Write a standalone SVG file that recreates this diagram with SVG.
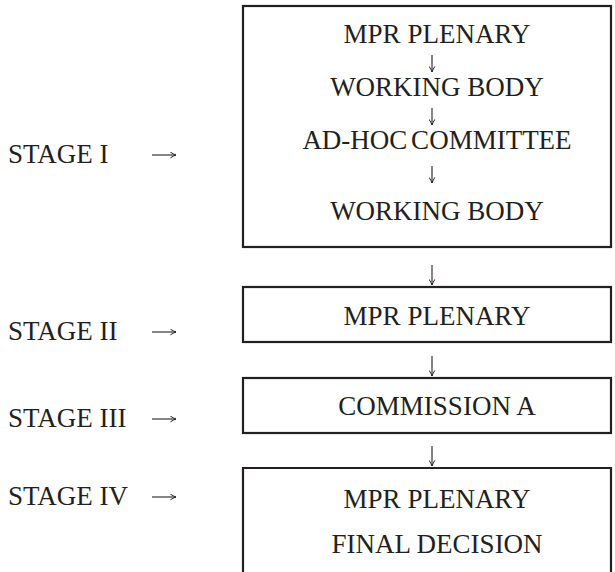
<svg xmlns="http://www.w3.org/2000/svg" width="615" height="572" viewBox="0 0 615 572">
<style>
.box{fill:none;stroke:#231f20;stroke-width:2.2}
.t{font-family:"Liberation Serif","Times New Roman",serif;font-size:27px;fill:#231f20}
.c{text-anchor:middle}
.arr{stroke:#231f20;stroke-width:1.1;fill:none;marker-end:url(#ah)}
</style>
<defs>
<marker id="ah" viewBox="0 0 10 10" refX="9" refY="5" markerWidth="7" markerHeight="7" markerUnits="userSpaceOnUse" orient="auto">
<path d="M1,1 Q6,4 9,5 Q6,6 1,9" fill="none" stroke="#231f20" stroke-width="1.4"/>
</marker>
</defs>
<rect width="615" height="572" fill="#fff"/>
<g id="stage1">
<rect class="box" x="243" y="6" width="368" height="241"/>
<text class="t c" x="437" y="43">MPR PLENARY</text>
<text class="t c" x="437" y="96">WORKING BODY</text>
<text class="t c" x="437" y="149" word-spacing="-3">AD-HOC COMMITTEE</text>
<text class="t c" x="437" y="220">WORKING BODY</text>
</g>
<g id="stage2">
<rect class="box" x="243" y="287" width="368" height="55"/>
<text class="t c" x="437" y="325">MPR PLENARY</text>
</g>
<g id="stage3">
<rect class="box" x="243" y="378" width="368" height="55"/>
<text class="t c" x="437" y="415">COMMISSION A</text>
</g>
<g id="stage4">
<path class="box" d="M243,575 V468 H611 V575"/>
<text class="t c" x="437" y="508">MPR PLENARY</text>
<text class="t c" x="437" y="553">FINAL DECISION</text>
</g>
<g id="labels">
<text class="t" x="8" y="163">STAGE I</text>
<text class="t" x="8" y="340">STAGE II</text>
<text class="t" x="8" y="427">STAGE III</text>
<text class="t" x="8" y="505">STAGE IV</text>
</g>
<g id="connectors">
<line class="arr" x1="432" y1="55" x2="432" y2="72"/>
<line class="arr" x1="432" y1="108" x2="432" y2="125"/>
<line class="arr" x1="432" y1="166" x2="432" y2="183"/>
<line class="arr" x1="432" y1="265" x2="432" y2="285"/>
<line class="arr" x1="432" y1="356" x2="432" y2="376"/>
<line class="arr" x1="432" y1="446" x2="432" y2="466"/>
<line class="arr" x1="152" y1="155" x2="176" y2="155"/>
<line class="arr" x1="152" y1="332" x2="176" y2="332"/>
<line class="arr" x1="152" y1="419" x2="176" y2="419"/>
<line class="arr" x1="152" y1="497" x2="176" y2="497"/>
</g>
</svg>
